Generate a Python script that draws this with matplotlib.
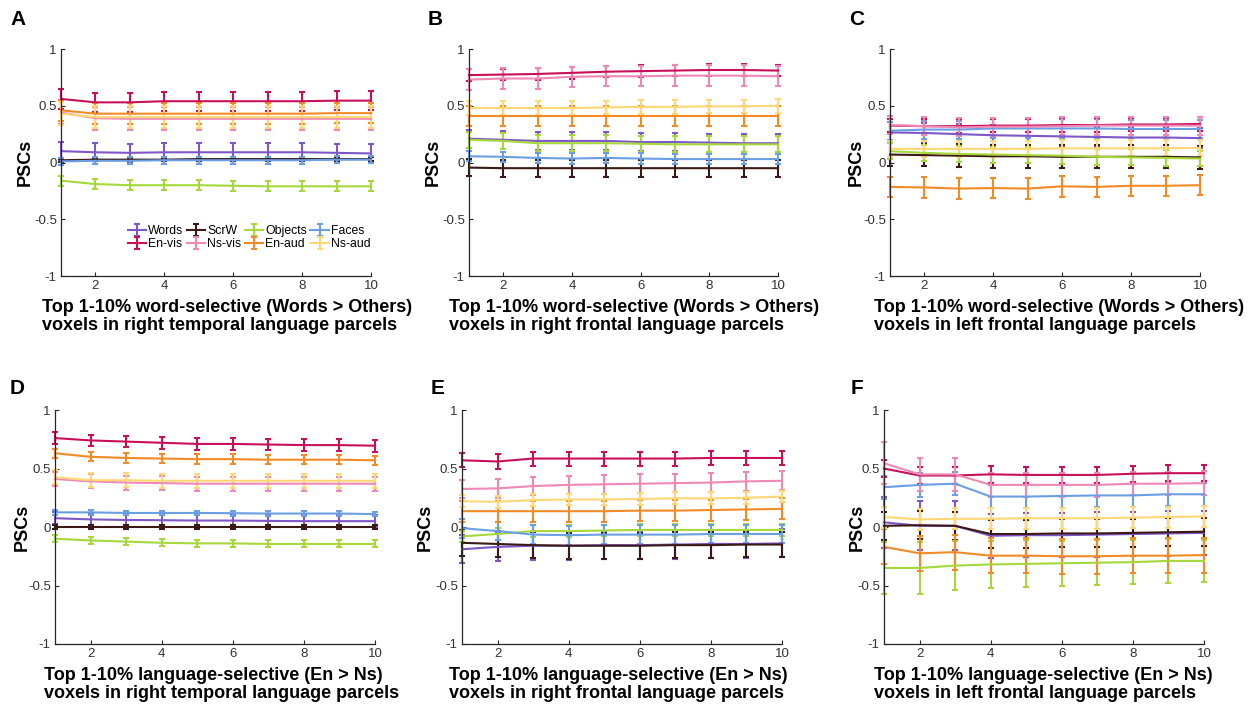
import matplotlib
matplotlib.use("Agg")
import matplotlib.pyplot as plt
import numpy as np

plt.rcParams['font.family'] = ['Liberation Sans', 'DejaVu Sans']

x = np.arange(1, 11)
conditions = ['Words', 'ScrW', 'Objects', 'Faces', 'En-vis', 'Ns-vis', 'En-aud', 'Ns-aud']
colors = ['#7E57C9', '#3B1A16', '#A6D83C', '#6A9FE3', '#C8105A', '#EE88B4', '#F28A26', '#FFD875']

# means per panel, rows in order of `conditions`
means_A = [
    [0.10, 0.09, 0.085, 0.09, 0.09, 0.09, 0.09, 0.09, 0.085, 0.08],
    [0.02, 0.025, 0.025, 0.025, 0.03, 0.03, 0.03, 0.03, 0.03, 0.03],
    [-0.16, -0.19, -0.20, -0.20, -0.20, -0.205, -0.21, -0.21, -0.21, -0.21],
    [0.01, 0.015, 0.015, 0.02, 0.02, 0.02, 0.02, 0.02, 0.025, 0.025],
    [0.56, 0.53, 0.53, 0.54, 0.54, 0.54, 0.54, 0.54, 0.545, 0.545],
    [0.44, 0.39, 0.385, 0.385, 0.385, 0.385, 0.385, 0.385, 0.385, 0.385],
    [0.46, 0.43, 0.43, 0.43, 0.43, 0.43, 0.43, 0.43, 0.435, 0.435],
    [0.43, 0.40, 0.40, 0.40, 0.40, 0.40, 0.40, 0.40, 0.40, 0.40],
]
errs_A = [0.08, 0.015, 0.045, 0.03, 0.085, 0.1, 0.09, 0.1]

means_B = [
    [0.21, 0.20, 0.19, 0.19, 0.19, 0.18, 0.18, 0.175, 0.17, 0.17],
    [-0.045, -0.05, -0.05, -0.05, -0.05, -0.05, -0.05, -0.05, -0.05, -0.05],
    [0.20, 0.19, 0.17, 0.17, 0.17, 0.165, 0.16, 0.16, 0.16, 0.16],
    [0.055, 0.05, 0.04, 0.035, 0.04, 0.035, 0.03, 0.03, 0.03, 0.03],
    [0.77, 0.775, 0.78, 0.79, 0.80, 0.805, 0.81, 0.815, 0.815, 0.81],
    [0.73, 0.74, 0.74, 0.755, 0.76, 0.76, 0.765, 0.765, 0.765, 0.76],
    [0.41, 0.41, 0.41, 0.41, 0.41, 0.41, 0.41, 0.41, 0.41, 0.41],
    [0.48, 0.48, 0.48, 0.48, 0.485, 0.49, 0.49, 0.495, 0.495, 0.50],
]
errs_B = [0.08, 0.075, 0.07, 0.045, 0.05, 0.09, 0.09, 0.06]

means_C = [
    [0.265, 0.26, 0.25, 0.24, 0.235, 0.23, 0.225, 0.22, 0.22, 0.215],
    [0.07, 0.065, 0.06, 0.055, 0.055, 0.05, 0.05, 0.05, 0.05, 0.045],
    [0.10, 0.085, 0.075, 0.07, 0.065, 0.06, 0.05, 0.045, 0.04, 0.035],
    [0.28, 0.29, 0.29, 0.30, 0.30, 0.30, 0.30, 0.295, 0.295, 0.295],
    [0.325, 0.32, 0.32, 0.325, 0.325, 0.33, 0.33, 0.335, 0.335, 0.34],
    [0.33, 0.32, 0.31, 0.315, 0.315, 0.32, 0.325, 0.325, 0.325, 0.325],
    [-0.215, -0.22, -0.23, -0.225, -0.23, -0.21, -0.215, -0.205, -0.205, -0.20],
    [0.12, 0.12, 0.12, 0.12, 0.12, 0.125, 0.125, 0.125, 0.125, 0.13],
]
errs_C = [0.09, 0.1, 0.07, 0.08, 0.06, 0.08, 0.09, 0.07]

means_D = [
    [0.075, 0.065, 0.06, 0.058, 0.055, 0.055, 0.052, 0.05, 0.05, 0.05],
    [0.0, 0.0, 0.0, 0.0, 0.0, 0.0, 0.0, 0.0, 0.0, 0.0],
    [-0.10, -0.115, -0.125, -0.135, -0.14, -0.14, -0.145, -0.145, -0.145, -0.145],
    [0.125, 0.125, 0.12, 0.12, 0.12, 0.118, 0.115, 0.115, 0.115, 0.11],
    [0.76, 0.74, 0.73, 0.72, 0.71, 0.71, 0.705, 0.70, 0.70, 0.695],
    [0.41, 0.39, 0.38, 0.375, 0.37, 0.37, 0.37, 0.37, 0.37, 0.37],
    [0.63, 0.60, 0.59, 0.585, 0.58, 0.58, 0.575, 0.575, 0.575, 0.57],
    [0.425, 0.40, 0.40, 0.395, 0.395, 0.395, 0.395, 0.395, 0.395, 0.395],
]
errs_D = [0.05, 0.02, 0.03, 0.02, 0.05, 0.06, 0.04, 0.06]

means_E = [
    [-0.19, -0.17, -0.16, -0.16, -0.155, -0.155, -0.15, -0.145, -0.145, -0.14],
    [-0.135, -0.145, -0.155, -0.16, -0.16, -0.16, -0.155, -0.155, -0.15, -0.15],
    [-0.08, -0.06, -0.035, -0.035, -0.03, -0.025, -0.025, -0.025, -0.025, -0.025],
    [-0.01, -0.035, -0.065, -0.07, -0.065, -0.065, -0.065, -0.06, -0.06, -0.06],
    [0.57, 0.56, 0.585, 0.585, 0.585, 0.585, 0.585, 0.59, 0.59, 0.59],
    [0.325, 0.33, 0.35, 0.36, 0.365, 0.37, 0.375, 0.38, 0.39, 0.395],
    [0.135, 0.135, 0.135, 0.135, 0.135, 0.14, 0.14, 0.145, 0.15, 0.155],
    [0.22, 0.215, 0.23, 0.235, 0.235, 0.24, 0.245, 0.245, 0.25, 0.26],
]
errs_E = [0.12, 0.11, 0.05, 0.08, 0.06, 0.08, 0.09, 0.05]

means_F = [
    [0.04, 0.01, 0.01, -0.075, -0.07, -0.07, -0.065, -0.06, -0.055, -0.05],
    [0.01, 0.015, 0.01, -0.06, -0.06, -0.055, -0.055, -0.05, -0.045, -0.04],
    [-0.35, -0.35, -0.33, -0.32, -0.315, -0.31, -0.305, -0.30, -0.29, -0.29],
    [0.34, 0.36, 0.37, 0.26, 0.26, 0.265, 0.27, 0.27, 0.28, 0.28],
    [0.50, 0.44, 0.44, 0.45, 0.445, 0.445, 0.445, 0.455, 0.46, 0.46],
    [0.545, 0.45, 0.45, 0.36, 0.36, 0.36, 0.36, 0.37, 0.37, 0.375],
    [-0.17, -0.225, -0.215, -0.245, -0.245, -0.25, -0.25, -0.245, -0.245, -0.24],
    [0.085, 0.065, 0.07, 0.07, 0.075, 0.075, 0.075, 0.08, 0.085, 0.09],
]
errs_F = [
    [0.22, 0.21, 0.21, 0.19, 0.19, 0.19, 0.19, 0.19, 0.19, 0.19],
    0.12,
    [0.22, 0.22, 0.21, 0.2, 0.2, 0.19, 0.19, 0.19, 0.19, 0.18],
    [0.1, 0.1, 0.1, 0.1, 0.1, 0.1, 0.1, 0.1, 0.1, 0.1],
    0.07,
    [0.18, 0.14, 0.14, 0.1, 0.1, 0.1, 0.1, 0.1, 0.1, 0.1],
    0.15,
    0.09,
]

# letter, data, axes box (px: left, top, right, bottom), xlabel, xlabel x, ylabel x, letter pos
panels = [
    ('A', means_A, errs_A, [61, 49, 371, 276],
     'Top 1-10% word-selective (Words > Others)\nvoxels in right temporal language parcels', 42, 25, (10, 10)),
    ('B', means_B, errs_B, [469, 49, 778, 276],
     'Top 1-10% word-selective (Words > Others)\nvoxels in right frontal language parcels', 449, 433, (428, 10)),
    ('C', means_C, errs_C, [890, 49, 1200, 276],
     'Top 1-10% word-selective (Words > Others)\nvoxels in left frontal language parcels', 874, 856, (849, 10)),
    ('D', means_D, errs_D, [55, 410, 375, 644],
     'Top 1-10% language-selective (En > Ns)\nvoxels in right temporal language parcels', 44, 22, (10, 379)),
    ('E', means_E, errs_E, [462, 410, 782, 644],
     'Top 1-10% language-selective (En > Ns)\nvoxels in right frontal language parcels', 449, 425, (431, 379)),
    ('F', means_F, errs_F, [884, 410, 1204, 644],
     'Top 1-10% language-selective (En > Ns)\nvoxels in left frontal language parcels', 874, 857, (851, 379)),
]

W, H = 1255, 709
fig = plt.figure(figsize=(W / 100, H / 100), dpi=100)
axcol = '#262626'

for letter, means, errs, box, label, lab_x, ylab_x, lpos in panels:
    l, t, r, b = box
    ax = fig.add_axes([l / W, 1 - b / H, (r - l) / W, (b - t) / H])
    handles = []
    for name, col, m, e in zip(conditions, colors, means, errs):
        h = ax.errorbar(x, m, yerr=e, color=col, lw=1.5, elinewidth=1.5,
                        capsize=2.2, capthick=1.5, label=name, clip_on=False)
        for art in h.get_children():
            art.set_clip_on(False)
        handles.append(h)
    ax.set_xlim(1, 10)
    ax.set_ylim(-1, 1)
    ax.set_xticks([2, 4, 6, 8, 10])
    ax.set_yticks([-1, -0.5, 0, 0.5, 1])
    ax.set_yticklabels(['-1', '-0.5', '0', '0.5', '1'])
    for s in ['top', 'right']:
        ax.spines[s].set_visible(False)
    for s in ['left', 'bottom']:
        ax.spines[s].set_color(axcol)
        ax.spines[s].set_linewidth(0.9)
    ax.tick_params(direction='in', length=3, width=0.8, colors=axcol,
                   labelsize=9.5, labelcolor='#333333', pad=3)
    fig.text(lab_x / W, 1 - (b + 23) / H, label, ha='left', va='top',
             fontsize=13, fontweight='bold', linespacing=1.05)
    fig.text(ylab_x / W, 1 - ((t + b) / 2) / H, 'PSCs', rotation=90,
             ha='center', va='center', fontsize=13, fontweight='bold')
    fig.text(lpos[0] / W, 1 - lpos[1] / H, letter,
             ha='left', va='top', fontsize=15, fontweight='bold')
    if letter == 'A':
        order = [0, 4, 1, 5, 2, 6, 3, 7]
        ax.legend([handles[i] for i in order], [conditions[i] for i in order],
                  ncol=4, loc='lower right', bbox_to_anchor=(1.025, 0.075),
                  frameon=False, fontsize=8.8, handlelength=1.5,
                  handletextpad=0.15, columnspacing=0.3, labelspacing=0.12,
                  borderpad=0.2)

fig.savefig('out.png', dpi=100)
